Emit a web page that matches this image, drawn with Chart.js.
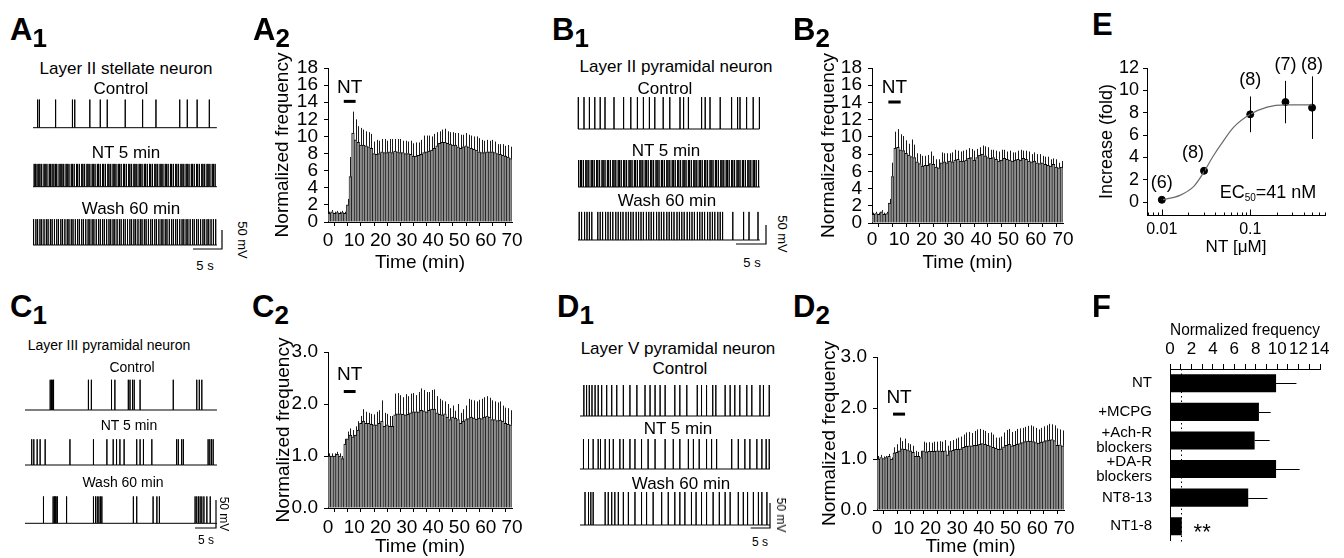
<!DOCTYPE html>
<html><head><meta charset="utf-8">
<script src="https://cdn.jsdelivr.net/npm/chart.js@4.4.1/dist/chart.umd.min.js"></script>
<style>
html,body{margin:0;padding:0;background:#fff;width:1344px;height:558px;overflow:hidden;position:relative;font-family:"Liberation Sans",Arial,Helvetica,sans-serif;color:#000}
canvas{position:absolute}
.t{position:absolute;white-space:nowrap;transform:translate(-50%,-50%);line-height:1}
.rot{transform:translate(-50%,-50%) rotate(90deg)}
.pl{position:absolute;font-weight:bold;font-size:31px;line-height:1;white-space:nowrap}
.pl sub{font-size:26px;vertical-align:baseline;position:relative;top:7px}
.ec sub{font-size:10px;vertical-align:baseline;position:relative;top:3px}
</style></head><body>
<script>
// ================= DATA =================
// time-course bins (1 min each, 0-70 min)
const timeTicks = [0,5,10,15,20,25,30,35,40,45,50,55,60,65,70];
const freqTicksHigh = [0,2,4,6,8,10,12,14,16,18];
const freqTicksLow = [0,1,2,3];
const ntWindow = [6, 10.5];

const A2_mean = [1.0,1.2,1.0,1.1,1.0,1.1,1.0,2.0,5.3,10.4, 9.6,9.3,9.0,9.0,8.9,8.8,8.6,8.0,7.9,8.0, 8.2,8.1,8.1,8.2,8.1,8.3,8.2,8.1,8.1,8.0, 8.0,7.9,7.7,7.7,7.8,7.9,8.1,8.2,8.3,8.4, 8.6,8.9,9.2,9.3,9.3,9.2,9.1,9.0,9.0,8.8, 8.6,8.8,8.9,8.8,8.6,8.5,8.4,8.2,8.1,8.1, 8.2,8.2,8.2,8.1,8.0,7.9,7.8,7.7,7.6,7.4];
const A2_sem  = [0.2,0.2,0.2,0.2,0.2,0.2,0.2,0.7,2.3,2.5, 2.4,1.9,2.0,1.8,1.7,1.7,1.7,1.4,1.7,1.5, 1.5,1.6,1.4,1.5,1.6,1.4,1.5,1.6,1.4,1.5, 1.4,1.6,1.5,1.6,1.5,1.7,2.0,1.9,1.8,1.6, 1.7,1.6,1.4,1.5,1.6,1.4,1.4,1.5,1.4,1.6, 1.6,1.4,1.5,1.4,1.5,1.5,1.6,1.6,1.5,1.4, 1.4,1.3,1.4,1.3,1.1,1.2,1.3,1.2,1.4,1.4];

const B2_mean = [1.0,1.1,1.0,1.3,1.0,1.1,2.3,5.4,8.7,8.8, 8.5,8.4,8.1,7.9,7.7,7.6,7.1,6.9,6.6,6.7, 6.7,6.9,6.8,6.5,6.4,7.0,7.1,7.0,7.2,7.1, 7.3,7.4,7.2,7.2,7.3,7.5,7.6,7.3,7.6,7.9, 8.0,7.8,7.6,7.5,7.6,7.4,7.2,7.3,7.5,7.4, 7.3,7.2,7.3,7.4,7.3,7.5,7.4,7.2,7.1,7.2, 7.0,6.9,7.0,6.8,6.7,6.6,6.8,6.5,6.4,6.5];
const B2_sem  = [0.2,0.2,0.2,0.2,0.2,0.2,0.5,1.6,1.9,2.1, 1.8,1.7,1.5,1.3,2.0,1.5,1.0,1.1,1.2,1.1, 1.2,1.4,1.0,0.9,1.0,1.2,1.0,1.1,0.9,1.1, 1.2,1.0,1.1,1.2,1.2,1.2,1.0,1.1,1.0,0.9, 1.0,1.1,1.2,1.0,0.9,1.0,1.1,1.2,1.0,0.9, 1.1,1.0,0.9,1.0,1.2,0.9,1.0,1.1,0.9,1.0, 1.0,1.1,0.8,0.9,1.0,0.8,0.7,0.9,0.6,0.7];

const C2_mean = [1.0,1.0,1.0,1.03,1.0,0.95,1.23,1.33,1.4,1.37, 1.4,1.5,1.63,1.67,1.63,1.63,1.61,1.6,1.6,1.63, 1.67,1.57,1.6,1.57,1.57,1.79,1.81,1.81,1.8,1.79, 1.8,1.83,1.85,1.85,1.85,1.88,1.87,1.85,1.88,1.9, 1.9,1.83,1.8,1.79,1.81,1.75,1.7,1.75,1.73,1.7, 1.63,1.67,1.7,1.72,1.75,1.73,1.71,1.73,1.72,1.75, 1.77,1.75,1.7,1.7,1.68,1.69,1.67,1.63,1.61,1.6];
const C2_sem  = [0.05,0.05,0.05,0.05,0.05,0.05,0.1,0.14,0.13,0.13, 0.17,0.17,0.14,0.23,0.22,0.2,0.2,0.2,0.25,0.25, 0.4,0.26,0.21,0.2,0.2,0.41,0.4,0.36,0.33,0.4, 0.35,0.37,0.36,0.32,0.38,0.42,0.4,0.38,0.35,0.37, 0.38,0.32,0.3,0.28,0.24,0.25,0.22,0.22,0.14,0.3, 0.2,0.23,0.27,0.38,0.33,0.34,0.34,0.35,0.38,0.38, 0.38,0.37,0.37,0.35,0.35,0.36,0.3,0.3,0.31,0.28];

const D2_mean = [1.0,1.03,1.01,1.03,1.05,1.0,1.12,1.13,1.16,1.2, 1.19,1.18,1.16,1.13,1.05,1.05,1.03,1.16,1.14,1.15, 1.15,1.15,1.16,1.16,1.15,1.16,1.08,1.16,1.17,1.19, 1.19,1.2,1.23,1.25,1.26,1.26,1.27,1.27,1.29,1.3, 1.29,1.27,1.26,1.23,1.21,1.19,1.2,1.24,1.27,1.29, 1.26,1.27,1.29,1.3,1.32,1.34,1.35,1.35,1.34,1.32, 1.31,1.33,1.34,1.36,1.37,1.38,1.36,1.27,1.28,1.26];
const D2_sem  = [0.06,0.05,0.04,0.03,0.05,0.03,0.11,0.16,0.26,0.15, 0.21,0.13,0.13,0.13,0.11,0.09,0.13,0.18,0.18,0.18, 0.17,0.19,0.18,0.19,0.19,0.21,0.18,0.19,0.2,0.21, 0.23,0.24,0.25,0.27,0.27,0.25,0.28,0.31,0.3,0.27, 0.26,0.24,0.26,0.25,0.21,0.23,0.24,0.28,0.3,0.3, 0.27,0.28,0.3,0.3,0.29,0.29,0.3,0.31,0.3,0.29, 0.27,0.28,0.3,0.3,0.32,0.3,0.3,0.33,0.3,0.3];

// E: dose response
const E_conc = [0.01, 0.03, 0.1, 0.25, 0.5];
const E_mean = [0.2, 2.8, 7.85, 8.95, 8.45];
const E_sem  = [0.1, 0.2, 1.6, 1.9, 2.8];
const E_n    = [6, 8, 8, 7, 8];
const E_fitConc = [0.01, 0.016, 0.023, 0.03, 0.038, 0.05, 0.065, 0.1, 0.155, 0.25, 0.5];
const E_fitVal  = [0.2, 0.6, 1.4, 2.7, 4.1, 5.5, 6.7, 7.85, 8.5, 8.7, 8.7];
const E_yTicks = [0,2,4,6,8,10,12];
const E_xTicks = [0.01, 0.1];
const E_minor = [0.007,0.008,0.009,0.02,0.03,0.04,0.05,0.06,0.07,0.08,0.09,0.2,0.3,0.4,0.5,0.6,0.7];

// F: summary
const F_cats = ['NT', '+MCPG', ['+Ach-R','blockers'], ['+DA-R','blockers'], 'NT8-13', 'NT1-8'];
const F_mean = [9.9, 8.3, 7.9, 9.9, 7.3, 1.1];
const F_sem  = [1.9, 1.1, 1.4, 2.2, 1.8, 0];
const F_ticks = [0,1,2,3,4,5,6,7,8,9,10,11,12,13,14];
const F_baseline = 1;

// Voltage traces: spike times (s) and spike amplitude (mV)
const A1_ctrl = [0.8,1.1,3.9,6.8,7.2,9.8,11.6,12.8,15.9,18.9,21.2,25.3,26.6,28.3,30.4];
const A1_nt = [0.2,0.4,0.7,1.0,1.2,1.5,1.9,2.1,2.4,2.8,3.0,3.3,3.6,3.9,4.1,4.5,4.8,5.0,5.3,5.7,5.9,6.2,6.6,6.8,7.1,7.5,7.7,8.0,8.4,8.6,8.9,9.3,9.5,9.8,10.2,10.4,10.7,11.1,11.3,11.6,12.0,12.2,12.5,12.9,13.1,13.4,13.8,14.0,14.3,14.7,14.9,15.2,15.6,15.8,16.1,16.5,16.7,17.0,17.4,17.6,17.9,18.3,18.5,18.8,19.2,19.4,19.7,20.1,20.3,20.6,21.0,21.2,21.5,21.9,22.1,22.4,22.8,23.0,23.3,23.7,23.9,24.2,24.6,24.8,25.1,25.5,25.7,26.0,26.4,26.6,26.9,27.3,27.5,27.8,28.2,28.4,28.7,29.1,29.3,29.6,30.0,30.2,30.5,30.9,31.1,31.4];
const A1_wash = [0.1,0.5,0.8,1.2,1.5,1.9,2.3,2.6,3.0,3.3,3.7,4.1,4.4,4.8,5.1,5.5,5.9,6.2,6.6,6.9,7.3,7.7,8.0,8.4,8.7,9.1,9.5,9.8,10.2,10.5,10.9,11.3,11.6,12.0,12.3,12.7,13.1,13.4,13.8,14.1,14.5,14.9,15.2,15.6,15.9,16.3,16.7,17.0,17.4,17.7,18.1,18.5,18.8,19.2,19.5,19.9,20.3,20.6,21.0,21.3,21.7,22.1,22.4,22.8,23.1,23.5,23.9,24.2,24.6,24.9,25.3,25.7,26.0,26.4,26.7,27.1,27.5,27.8,28.2,28.5,28.9,29.3,29.6,30.0,30.3,30.7,31.1,31.5];
const A1_amp = [74, 60, 68];

const B1_ctrl = [0.05,1.0,1.9,2.8,3.7,4.5,6.0,7.6,8.8,9.9,10.9,11.9,12.8,14.2,15.3,17.0,17.6,18.4,20.6,21.2,22.0,23.7,25.6,26.6,27.0,28.1,29.2,30.2];
const B1_nt = [0.1,0.4,0.6,0.9,1.3,1.5,1.8,2.2,2.4,2.7,3.1,3.3,3.6,4.0,4.2,4.5,4.9,5.1,5.4,5.8,6.0,6.3,6.7,6.9,7.2,7.6,7.8,8.1,8.5,8.7,9.0,9.4,9.6,9.9,10.3,10.5,10.8,11.2,11.4,11.7,12.1,12.3,12.6,13.0,13.2,13.5,13.9,14.1,14.4,14.8,15.0,15.3,15.7,15.9,16.2,16.6,16.8,17.1,17.5,17.7,18.0,18.4,18.6,18.9,19.3,19.5,19.8,20.2,20.4,20.7,21.1,21.3,21.6,22.0,22.2,22.5,22.9,23.1,23.4,23.8,24.0,24.3,24.7,24.9,25.2,25.6,25.8,26.1,26.5,26.7,27.0,27.4,27.6,27.9,28.3,28.5,28.8,29.2,29.4,29.7,30.1];
const B1_wash = [0.2,0.6,1.1,1.5,1.9,2.3,3.3,3.7,4.1,4.6,5.0,5.4,5.8,6.3,6.7,7.1,7.5,8.0,8.4,8.8,9.2,9.7,10.1,10.5,10.9,11.4,11.8,12.2,12.6,13.1,13.5,13.9,14.3,14.8,15.2,15.6,16.0,16.5,16.9,17.3,17.7,18.2,18.6,19.0,19.4,19.9,20.3,20.7,21.1,21.6,22.0,22.4,22.8,23.3,23.7,24.1,25.8,27.6,28.5,30.0];
const B1_amp = [84, 71, 74];

const C1_ctrl = [6.0,6.3,6.6,6.8,15.1,15.8,20.6,21.4,24.6,25.0,25.6,26.0,27.4,35.3,40.9,41.5,42.1];
const C1_nt = [1.6,2.1,2.9,3.6,4.8,10.7,16.3,19.5,21.0,21.8,22.6,23.6,26.6,27.4,28.2,30.2,36.1,36.5,37.3,37.7,43.6,44.0,44.4,44.8];
const C1_wash = [4.4,6.7,7.0,7.2,7.4,7.7,9.9,16.3,16.8,17.2,17.6,18.0,18.3,25.8,26.6,30.5,31.4,32.0,40.5,40.9,41.3,41.7,42.1,42.6,43.3,44.1];
const C1_amp = [54, 46, 48];

const D1_ctrl = [1.0,1.7,2.4,3.1,3.9,4.7,5.6,6.9,8.2,9.5,11.2,12.9,14.7,16.8,18.1,19.4,20.7,22.0,24.5,25.8,27.6,30.3,31.4,32.7,34.3,35.1,37.5,38.8,40.0,41.3,43.1,44.4,46.5,47.4,48.9];
const D1_nt = [0.9,2.2,3.4,4.7,5.3,6.5,7.6,8.6,10.3,11.2,12.9,14.2,15.9,17.6,19.4,22.0,24.1,25.8,28.0,29.3,30.8,32.7,34.0,35.3,39.2,40.9,42.6,43.9,45.7,47.0,48.1,48.9];
const D1_wash = [1.3,2.2,2.8,3.4,6.5,7.3,8.2,9.0,9.9,11.2,12.5,14.2,15.9,17.2,18.9,21.1,22.8,24.5,25.8,27.1,28.8,30.0,31.4,32.7,34.4,36.0,37.5,38.8,40.9,42.2,43.3,44.8,46.1,47.0,48.3];
const D1_amp = [62, 60, 66];

// ================= RENDERING =================
const FONT = '"Liberation Sans", Arial, Helvetica, sans-serif';
Chart.defaults.font.family = FONT;
Chart.defaults.color = '#000';
Chart.defaults.animation = false;
Chart.defaults.responsive = false;
Chart.defaults.plugins.legend.display = false;
Chart.defaults.plugins.tooltip.enabled = false;

function mkCanvas(left, top, w, h) {
  const c = document.createElement('canvas');
  c.width = Math.round(w); c.height = Math.round(h);
  c.style.left = Math.round(left) + 'px'; c.style.top = Math.round(top) + 'px';
  c.style.width = c.width + 'px'; c.style.height = c.height + 'px';
  document.body.appendChild(c);
  return c;
}
function txt(s, x, y, size, cls) {
  const d = document.createElement('div');
  d.className = 't' + (cls ? ' ' + cls : '');
  d.style.left = x + 'px'; d.style.top = y + 'px'; d.style.fontSize = size + 'px';
  d.innerHTML = s;
  document.body.appendChild(d);
}
function letter(L, sub, x, y) {
  const d = document.createElement('div');
  d.className = 'pl'; d.style.left = x + 'px'; d.style.top = y + 'px';
  d.innerHTML = L + (sub ? '<sub>' + sub + '</sub>' : '');
  document.body.appendChild(d);
}
const axisGrid = {display:true, drawOnChartArea:false, drawTicks:true, tickLength:4, color:'#000', lineWidth:1};
const axisBorder = {display:true, color:'#000', width:1};

function timeCourse(P) {
  const lh = 19 * 1.2;
  const cl = Math.round(P.titleX - 4 - lh / 2);
  const ct = P.t - 18;
  const cr = P.r + 16;
  const mB = Math.round(P.xTitleY - P.b + 4 + lh / 2);
  const cb = P.b + mB;
  const cv = mkCanvas(cl, ct, cr - cl, cb - ct);
  const mL = P.l - cl;
  const errPlugin = {id:'errs', afterDatasetsDraw(c) {
    const {ctx, scales:{x, y}} = c;
    ctx.save(); ctx.strokeStyle = '#1a1a1a'; ctx.lineWidth = 1; ctx.beginPath();
    P.mean.forEach((m, i) => {
      const px = Math.round(x.getPixelForValue(i + 0.5)) + 0.5;
      ctx.moveTo(px, y.getPixelForValue(m)); ctx.lineTo(px, y.getPixelForValue(m + P.sem[i]));
    });
    ctx.stroke(); ctx.restore();
  }};
  const ntPlugin = {id:'nt', afterDraw(c) {
    const {ctx, scales:{x, y}} = c;
    const x1 = x.getPixelForValue(ntWindow[0]), x2 = x.getPixelForValue(ntWindow[1]), py = y.getPixelForValue(P.ntY);
    ctx.save(); ctx.fillStyle = '#000'; ctx.fillRect(x1, py - 1.5, x2 - x1, 3);
    ctx.font = '19px ' + FONT; ctx.textAlign = 'center'; ctx.textBaseline = 'middle';
    ctx.fillText('NT', (x1 + x2) / 2, py - P.ntOff); ctx.restore();
  }};
  new Chart(cv, {
    type: 'bar',
    data: {datasets: [{
      data: P.mean.map((v, i) => ({x: i + 0.5, y: v})),
      backgroundColor: '#8e8e8e', borderColor: '#000',
      borderWidth: {top: 1, left: 0.6, right: 0.6, bottom: 0}, borderSkipped: false,
      barPercentage: 1, categoryPercentage: 1
    }]},
    options: {
      layout: {padding: {top: P.t - ct, right: cr - P.r, bottom: 0, left: 0}},
      scales: {
        x: {type: 'linear', min: 0, max: 70, offset: false,
          afterBuildTicks: s => { s.ticks = timeTicks.map(v => ({value: v})); },
          afterFit: s => { s.height = mB; },
          grid: axisGrid, border: axisBorder,
          ticks: {autoSkip: false, maxRotation: 0, padding: P.xPad, font: {size: 19}, callback: v => (v % 10 === 0 ? String(v) : '')},
          title: {display: true, text: 'Time (min)', font: {size: 19}, padding: {top: 0, bottom: 4}}},
        y: {min: 0, max: P.yMax,
          afterBuildTicks: s => { s.ticks = P.yTicks.map(v => ({value: v})); },
          afterFit: s => { s.width = mL; },
          grid: axisGrid, border: axisBorder,
          ticks: {autoSkip: false, padding: 6, font: {size: 19}, callback: v => P.fmt(v)},
          title: {display: true, text: 'Normalized frequency', font: {size: 19}, padding: {top: 4, bottom: 0}}}
      }
    },
    plugins: [errPlugin, ntPlugin]
  });
}

timeCourse({l:328, t:68, r:512, b:222, titleX:282, xTitleY:263, xPad:3, yMax:18, yTicks:freqTicksHigh, fmt:v=>String(v), mean:A2_mean, sem:A2_sem, ntY:14.1, ntOff:14});
timeCourse({l:872, t:68, r:1063, b:223, titleX:828, xTitleY:263, xPad:1, yMax:18, yTicks:freqTicksHigh, fmt:v=>String(v), mean:B2_mean, sem:B2_sem, ntY:14.05, ntOff:14});
timeCourse({l:328, t:352, r:512, b:508, titleX:283, xTitleY:547, xPad:4, yMax:3, yTicks:freqTicksLow, fmt:v=>v.toFixed(1), mean:C2_mean, sem:C2_sem, ntY:2.24, ntOff:17});
timeCourse({l:877, t:357, r:1064, b:510, titleX:829, xTitleY:547, xPad:3, yMax:3, yTicks:freqTicksLow, fmt:v=>v.toFixed(1), mean:D2_mean, sem:D2_sem, ntY:1.88, ntOff:16});

// ---- E ----
(function () {
  const cv = mkCanvas(1092, 50, 245, 212);
  const plug = {id:'eplug', afterDraw(c) {
    const {ctx, scales:{x, y}} = c;
    ctx.save(); ctx.strokeStyle = '#000'; ctx.lineWidth = 1; ctx.beginPath();
    E_conc.forEach((cn, i) => {
      const px = Math.round(x.getPixelForValue(cn)) + 0.5;
      ctx.moveTo(px, y.getPixelForValue(E_mean[i] - E_sem[i])); ctx.lineTo(px, y.getPixelForValue(E_mean[i] + E_sem[i]));
    });
    const yb = Math.round(y.getPixelForValue(y.min)) + 0.5;
    E_minor.forEach(v => { const px = Math.round(x.getPixelForValue(v)) + 0.5; ctx.moveTo(px, yb); ctx.lineTo(px, yb - 3); });
    E_xTicks.forEach(v => { const px = Math.round(x.getPixelForValue(v)) + 0.5; ctx.moveTo(px, yb); ctx.lineTo(px, yb - 6); });
    ctx.stroke();
    ctx.font = '18px ' + FONT; ctx.fillStyle = '#000'; ctx.textAlign = 'center'; ctx.textBaseline = 'middle';
    const topLimit = c.chartArea.top - 3;
    E_conc.forEach((cn, i) => {
      const py = Math.max(y.getPixelForValue(E_mean[i] + E_sem[i]) - 16, topLimit);
      const dx = i === 1 ? -11 : 0;
      ctx.fillText('(' + E_n[i] + ')', x.getPixelForValue(cn) + dx, py);
    });
    ctx.restore();
  }};
  new Chart(cv, {
    type: 'scatter',
    data: {datasets: [
      {data: E_fitConc.map((c, i) => ({x: c, y: E_fitVal[i]})), showLine: true, borderColor: '#6a6a6a', borderWidth: 1.2, pointRadius: 0, cubicInterpolationMode: 'monotone'},
      {data: E_conc.map((c, i) => ({x: c, y: E_mean[i]})), pointRadius: 3.5, backgroundColor: '#000', borderColor: '#000', showLine: false}
    ]},
    options: {
      layout: {padding: {top: 18, right: 12, bottom: 0, left: 0}},
      scales: {
        x: {type: 'logarithmic', min: 0.0068, max: 0.7,
          afterBuildTicks: s => { s.ticks = E_xTicks.map(v => ({value: v})); },
          afterFit: s => { s.height = 47; },
          grid: {display: true, drawOnChartArea: false, drawTicks: false}, border: axisBorder,
          ticks: {autoSkip: false, maxRotation: 0, padding: 5, font: {size: 16}, callback: v => String(v)},
          title: {display: true, text: 'NT [\u03bcM]', font: {size: 17}, padding: {top: 0, bottom: 4}}},
        y: {min: -1.16, max: 12,
          afterBuildTicks: s => { s.ticks = E_yTicks.map(v => ({value: v})); },
          afterFit: s => { s.width = 55; },
          grid: axisGrid, border: axisBorder,
          ticks: {autoSkip: false, padding: 4, font: {size: 18}},
          title: {display: true, text: 'Increase (fold)', font: {size: 18}, padding: {top: 4, bottom: 0}}}
      }
    },
    plugins: [plug]
  });
})();

// ---- F ----
(function () {
  const cv = mkCanvas(1095, 316, 241, 242);
  const plug = {id:'fplug', afterDatasetsDraw(c) {
    const {ctx, scales:{x, y}, chartArea} = c;
    ctx.save(); ctx.strokeStyle = '#000'; ctx.lineWidth = 1;
    ctx.beginPath();
    F_mean.forEach((m, i) => {
      if (!F_sem[i]) return;
      const py = Math.round(y.getPixelForValue(i)) + 0.5;
      ctx.moveTo(x.getPixelForValue(m), py); ctx.lineTo(x.getPixelForValue(m + F_sem[i]), py);
    });
    ctx.stroke();
    ctx.setLineDash([1.5, 3]); ctx.beginPath();
    const bx = Math.round(x.getPixelForValue(F_baseline)) + 0.5;
    ctx.moveTo(bx, chartArea.top); ctx.lineTo(bx, chartArea.bottom + 4); ctx.stroke();
    ctx.setLineDash([]);
    ctx.font = '22px ' + FONT; ctx.fillStyle = '#000'; ctx.textAlign = 'center'; ctx.textBaseline = 'alphabetic';
    ctx.fillText('**', x.getPixelForValue(3.0), y.getPixelForValue(5) + 13);
    ctx.restore();
  }};
  new Chart(cv, {
    type: 'bar',
    data: {labels: F_cats, datasets: [{data: F_mean, backgroundColor: '#000', borderWidth: 0, barPercentage: 0.63, categoryPercentage: 1}]},
    options: {
      indexAxis: 'y',
      layout: {padding: {top: 0, right: 16, bottom: 7, left: 0}},
      scales: {
        x: {position: 'top', min: 0, max: 14,
          afterBuildTicks: s => { s.ticks = F_ticks.map(v => ({value: v})); },
          afterFit: s => { s.height = 53; },
          grid: {display: true, drawOnChartArea: false, drawTicks: true, tickLength: 5, color: '#000'}, border: axisBorder,
          ticks: {autoSkip: false, maxRotation: 0, padding: 4, font: {size: 17}, callback: v => (v % 2 === 0 ? String(v) : '')},
          title: {display: true, text: 'Normalized frequency', font: {size: 17}, padding: {top: 4, bottom: 0}}},
        y: {afterFit: s => { s.width = 75; },
          grid: {display: false}, border: axisBorder,
          ticks: {autoSkip: false, padding: 10, font: {size: 15, lineHeight: 1.0}}}
      }
    },
    plugins: [plug]
  });
})();

// ---- voltage traces ----
function tracePanel(L, rows) {
  const cv = mkCanvas(L.left, L.top, L.w, L.h);
  const bottom = L.top + L.h;
  const toMv = py => (bottom - py) * L.mvpx;
  const datasets = rows.map(r => {
    const base = toMv(r.base);
    const pts = [{x: 0, y: base}];
    r.spikes.forEach(t => { pts.push({x: t, y: base}, {x: t, y: base + r.amp}, {x: t, y: base}); });
    pts.push({x: L.dur, y: base});
    return {data: pts, borderColor: '#000', borderWidth: 1, pointRadius: 0, tension: 0, showLine: true};
  });
  const sbT = (L.sbx - L.x0) / L.pxs, sbV = toMv(L.sby);
  const sb = {id:'sb', afterDraw(c) {
    const {ctx, scales:{x, y}} = c;
    ctx.save(); ctx.strokeStyle = '#000'; ctx.lineWidth = 1.2; ctx.beginPath();
    ctx.moveTo(x.getPixelForValue(sbT - 5), y.getPixelForValue(sbV));
    ctx.lineTo(x.getPixelForValue(sbT), y.getPixelForValue(sbV));
    ctx.lineTo(x.getPixelForValue(sbT), y.getPixelForValue(sbV + 50));
    ctx.stroke(); ctx.restore();
  }};
  new Chart(cv, {
    type: 'scatter',
    data: {datasets},
    options: {
      layout: {padding: 0},
      scales: {
        x: {type: 'linear', display: false, min: (L.left - L.x0) / L.pxs, max: (L.left + L.w - L.x0) / L.pxs},
        y: {type: 'linear', display: false, min: 0, max: L.h * L.mvpx}
      }
    },
    plugins: [sb]
  });
}

tracePanel({left:28, top:92, w:200, h:163, x0:33, pxs:5.8, mvpx:50/19, dur:31.7, sbx:222, sby:249},
  [{spikes:A1_ctrl, amp:A1_amp[0], base:127.7}, {spikes:A1_nt, amp:A1_amp[1], base:186.7}, {spikes:A1_wash, amp:A1_amp[2], base:245}]);
tracePanel({left:572, top:90, w:200, h:160, x0:578, pxs:6, mvpx:50/19, dur:30.3, sbx:766, sby:244},
  [{spikes:B1_ctrl, amp:B1_amp[0], base:129}, {spikes:B1_nt, amp:B1_amp[1], base:187}, {spikes:B1_wash, amp:B1_amp[2], base:240}]);
tracePanel({left:20, top:372, w:202, h:162, x0:25, pxs:4.2, mvpx:50/28, dur:45.7, sbx:216, sby:528},
  [{spikes:C1_ctrl, amp:C1_amp[0], base:410}, {spikes:C1_nt, amp:C1_amp[1], base:465}, {spikes:C1_wash, amp:C1_amp[2], base:523.3}]);
tracePanel({left:575, top:378, w:200, h:154, x0:580, pxs:3.87, mvpx:2, dur:49.1, sbx:770, sby:528},
  [{spikes:D1_ctrl, amp:D1_amp[0], base:416}, {spikes:D1_nt, amp:D1_amp[1], base:469}, {spikes:D1_wash, amp:D1_amp[2], base:525}]);

// ---- text ----
txt('Layer II stellate neuron', 126, 68, 17); txt('Control', 121, 88, 17); txt('NT 5 min', 126, 152, 17); txt('Wash 60 min', 131, 208, 17);
txt('5 s', 205, 265, 13); txt('50 mV', 242, 240, 13, 'rot');
txt('Layer II pyramidal neuron', 676, 66, 17); txt('Control', 665, 88, 17); txt('NT 5 min', 666, 150, 17); txt('Wash 60 min', 667, 200, 17);
txt('5 s', 752, 262, 13); txt('50 mV', 782, 234, 13, 'rot');
txt('Layer III pyramidal neuron', 109, 345, 14); txt('Control', 132, 367, 14); txt('NT 5 min', 129, 425, 14); txt('Wash 60 min', 123, 482, 14);
txt('5 s', 206, 540, 12); txt('50 mV', 224, 514, 12, 'rot');
txt('Layer V pyramidal neuron', 678, 348, 17); txt('Control', 680, 368, 17); txt('NT 5 min', 678, 428, 17); txt('Wash 60 min', 681, 483, 17);
txt('5 s', 760, 542, 12); txt('50 mV', 781, 515, 12, 'rot');
txt('EC<sub>50</sub>=41 nM', 1268, 192, 18, 'ec');

letter('A', '1', 10, 14); letter('A', '2', 253, 14); letter('B', '1', 552, 14); letter('B', '2', 793, 14); letter('E', '', 1092, 9);
letter('C', '1', 10, 291); letter('C', '2', 252, 291); letter('D', '1', 557, 291); letter('D', '2', 793, 291); letter('F', '', 1092, 291);
</script>
</body></html>
